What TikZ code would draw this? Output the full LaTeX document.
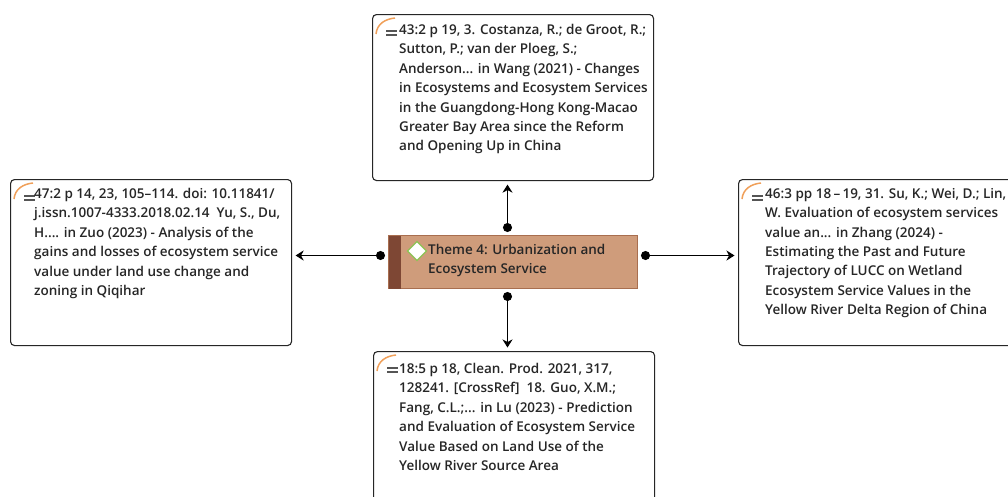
\documentclass[tikz,border=0pt]{standalone}
\usepackage{fontspec}
\setmainfont{Open Sans}[BoldFont={Open Sans Semibold}]
\usetikzlibrary{arrows.meta,calc}
\definecolor{textgray}{HTML}{262626}
\definecolor{tanfill}{HTML}{CF9C7B}
\definecolor{tanborder}{HTML}{A86E4F}
\definecolor{stripe}{HTML}{7E4734}
\definecolor{diagreen}{HTML}{8CC152}
\definecolor{iconorange}{HTML}{F0A05A}
\definecolor{icongray}{HTML}{555555}
\newcommand{\reffont}{\fontsize{13.5}{19.4}\selectfont\bfseries}
\tikzset{
  refbox/.style={draw=black!85, line width=1.1pt, rounded corners=4pt, fill=white,
    minimum width=281pt, minimum height=166pt, anchor=north west, inner sep=0pt},
  reftext/.style={anchor=north west, align=left, inner sep=0pt, font=\reffont, text=textgray},
  conn/.style={{Circle[length=9pt]}-{Stealth[length=8pt,width=10pt,inset=2.5pt]}, line width=1.2pt, black,
    shorten <=3pt, shorten >=3.5pt},
  noteicon/.pic={
    \draw[iconorange, line width=1.5pt] (4,20) .. controls (5,10) and (13,5) .. (23,4);
    \draw[icongray, line width=1.4pt] (14,17) -- (25,17) (14,21) -- (25,21);
  }
}
\begin{document}
\begin{tikzpicture}[x=1pt,y=-1pt]
\useasboundingbox (0,0) rectangle (1008,496);
\clip (0,0) rectangle (1008,496);
\fill[white] (0,0) rectangle (1008,496);

% boxes
\node[refbox] (topb) at (372,14) {};
\node[refbox] (leftb) at (10,179) {};
\node[refbox] (rightb) at (738,179) {};
\node[refbox] (botb) at (373,351) {};

\pic at (topb.north west) {noteicon};
\pic at (leftb.north west) {noteicon};
\pic at (rightb.north west) {noteicon};
\pic at (botb.north west) {noteicon};

\node[reftext] (topt) at ($(topb.north west)+(27,10)$) {43:2 p 19, 3. Costanza, R.; de Groot, R.;\\Sutton, P.; van der Ploeg, S.;\\Anderson... in Wang (2021) - Changes\\in Ecosystems and Ecosystem Services\\in the Guangdong-Hong Kong-Macao\\Greater Bay Area since the Reform\\and Opening Up in China};
\node[reftext] (leftt) at ($(leftb.north west)+(24,9)$) {47:2 p 14, 23, 105–114. doi: 10.11841/\\j.issn.1007-4333.2018.02.14\ \ Yu, S., Du,\\H.... in Zuo (2023) - Analysis of the\\gains and losses of ecosystem service\\value under land use change and\\zoning in Qiqihar};
\node[reftext] (rightt) at ($(rightb.north west)+(27,9)$) {46:3 pp 18\,–\,19, 31. Su, K.; Wei, D.; Lin,\\W. Evaluation of ecosystem services\\value an... in Zhang (2024) -\\Estimating the Past and Future\\Trajectory of LUCC on Wetland\\Ecosystem Service Values in the\\Yellow River Delta Region of China};
\node[reftext] (bott) at ($(botb.north west)+(26,12)$) {18:5 p 18, Clean. Prod. 2021, 317,\\128241. [CrossRef]\ \ 18. Guo, X.M.;\\Fang, C.L.;... in Lu (2023) - Prediction\\and Evaluation of Ecosystem Service\\Value Based on Land Use of the\\Yellow River Source Area};

% center
\node[draw=tanborder, fill=tanfill, line width=1pt, minimum width=249pt, minimum height=53pt,
  anchor=north west, inner sep=0pt] (center) at (388,235) {};
\fill[stripe] ($(center.north west)+(0.5,0.5)$) rectangle ($(center.south west)+(13,-0.5)$);
\node[draw=diagreen, fill=white, line width=1.3pt, inner sep=0pt,
  rotate=45, minimum width=13.5pt, minimum height=13.5pt] (dia) at ($(center.north west)+(29,16)$) {};
\node[reftext] (centert) at ($(center.north west)+(40,9)$) {Theme 4: Urbanization and\\Ecosystem Service};

% connector anchors on the center node
\coordinate (cn) at ($(center.north)+(-5.5,0)$);
\coordinate (cs) at ($(center.south)+(-5.5,0)$);
\coordinate (cw) at ($(center.west)+(0,-6.5)$);
\coordinate (ce) at ($(center.east)+(0,-6.5)$);

% connectors
\draw[conn] (cn) -- (topb.south -| cn);
\draw[conn] (cs) -- (botb.north -| cs);
\draw[conn] (cw) -- (leftb.east |- cw);
\draw[conn] (ce) -- (rightb.west |- ce);
\end{tikzpicture}
\end{document}
